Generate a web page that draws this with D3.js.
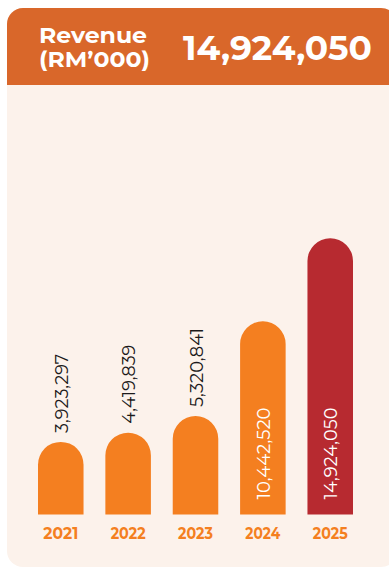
<!DOCTYPE html>
<html>
<head>
<meta charset="utf-8">
<script src="https://cdn.jsdelivr.net/npm/d3@7"></script>
<style>
  html, body { margin: 0; padding: 0; background: #ffffff; }
  svg { display: block; }
  text { font-family: "Montserrat", "Lato", "Open Sans", "DejaVu Sans", sans-serif; }
</style>
</head>
<body>
<svg id="chart" width="389" height="569"></svg>
<script>
// Revenue by financial year, RM'000
const years = ["2021", "2022", "2023", "2024", "2025"];
const revenue = [3923297, 4419839, 5320841, 10442520, 14924050];
const headline = "14,924,050";
const titleLines = ["Revenue", "(RM\u2019000)"];

const W = 389, H = 569;
const card = { x: 7, y: 8, w: 390, h: 559, r: 16, headH: 77 };
const colors = {
  header: "#d9672a",
  body: "#fcf2eb",
  bar: "#f47f20",
  latest: "#b72a30",
  label: "#1c1a1a",
  year: "#f47f20"
};

const svg = d3.select("#chart");

// Card body with rounded corners, header band on top
svg.append("rect")
  .attr("x", card.x).attr("y", card.y)
  .attr("width", card.w).attr("height", card.h)
  .attr("rx", card.r).attr("ry", card.r)
  .attr("fill", colors.body);

const hp = d3.path();
hp.moveTo(card.x, card.y + card.headH);
hp.lineTo(card.x, card.y + card.r);
hp.arcTo(card.x, card.y, card.x + card.r, card.y, card.r);
hp.lineTo(card.x + card.w - card.r, card.y);
hp.arcTo(card.x + card.w, card.y, card.x + card.w, card.y + card.r, card.r);
hp.lineTo(card.x + card.w, card.y + card.headH);
hp.closePath();
svg.append("path").attr("d", hp.toString()).attr("fill", colors.header);

// Header texts
const title = svg.append("g").attr("fill", "#ffffff").attr("font-weight", 700).attr("font-size", 21);
title.append("text").attr("x", 39).attr("y", 43)
  .attr("textLength", 108).attr("lengthAdjust", "spacingAndGlyphs").text(titleLines[0]);
title.append("text").attr("x", 39).attr("y", 67)
  .attr("textLength", 111).attr("lengthAdjust", "spacingAndGlyphs").text(titleLines[1]);

svg.append("text")
  .attr("x", 183).attr("y", 60)
  .attr("fill", "#ffffff").attr("font-weight", 700).attr("font-size", 35)
  .attr("textLength", 189).attr("lengthAdjust", "spacingAndGlyphs")
  .text(headline);

// Scales
const x = d3.scaleBand().domain(years).range([38, 353]).paddingInner(0.324).paddingOuter(0);
const y = d3.scaleLinear().domain([0, d3.max(revenue)]).range([514.5, 238.3]);

const data = years.map((yr, i) => ({ year: yr, value: revenue[i], latest: i === years.length - 1 }));
const fmt = d3.format(",");

// Bars with fully rounded tops
function barPath(d) {
  const x0 = x(d.year), bw = x.bandwidth(), r = bw / 2;
  const top = y(d.value), bottom = y(0);
  const p = d3.path();
  p.moveTo(x0, bottom);
  p.lineTo(x0, top + r);
  p.arc(x0 + r, top + r, r, Math.PI, 0);
  p.lineTo(x0 + bw, bottom);
  p.closePath();
  return p.toString();
}

svg.append("g").selectAll("path")
  .data(data).join("path")
  .attr("d", barPath)
  .attr("fill", d => d.latest ? colors.latest : colors.bar);

// Value labels, vertical: above short bars, inside tall bars
const labelLen = v => fmt(v).length >= 10 ? 92 : 79;
svg.append("g").selectAll("text")
  .data(data).join("text")
  .each(function (d) {
    const inside = y(0) - y(d.value) > 150;
    const cx = x(d.year) + x.bandwidth() / 2 + 1;
    const yy = inside ? y(0) - 15 : y(d.value) - 9;
    d3.select(this)
      .attr("transform", `translate(${cx},${yy}) rotate(-90)`)
      .attr("fill", inside ? "#ffffff" : colors.label);
  })
  .attr("dominant-baseline", "central")
  .attr("font-size", 18).attr("font-weight", 400)
  .attr("textLength", d => labelLen(d.value)).attr("lengthAdjust", "spacingAndGlyphs")
  .text(d => fmt(d.value));

// Year axis labels
svg.append("g").selectAll("text")
  .data(data).join("text")
  .attr("x", d => x(d.year) + x.bandwidth() / 2)
  .attr("y", 538.5)
  .attr("text-anchor", "middle")
  .attr("fill", colors.year).attr("font-weight", 700).attr("font-size", 16)
  .attr("textLength", 35).attr("lengthAdjust", "spacingAndGlyphs")
  .text(d => d.year);
</script>
</body>
</html>
